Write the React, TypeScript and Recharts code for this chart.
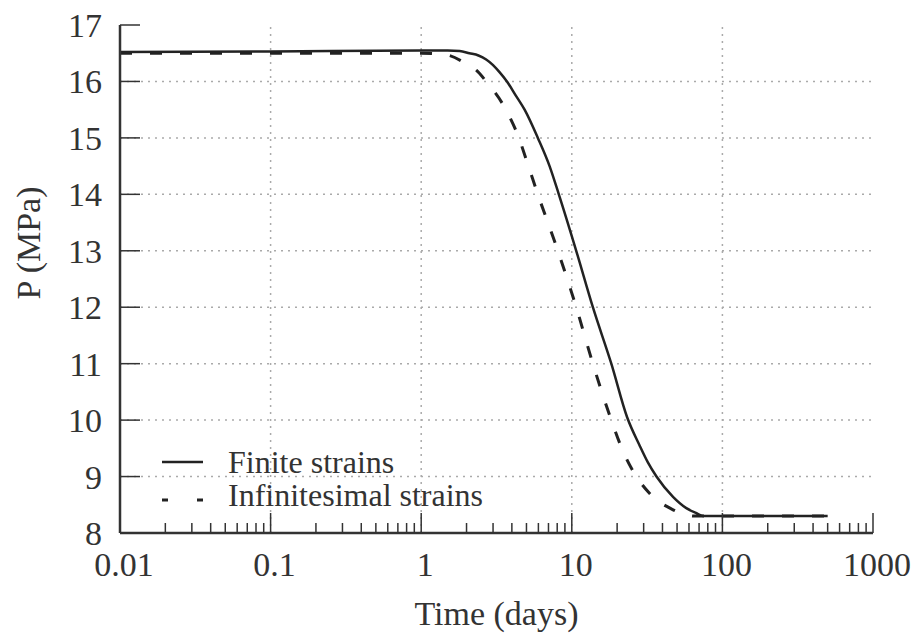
import { Legend, Line, LineChart, ReferenceLine, XAxis, YAxis } from "recharts";

// Zeit (Tage) und Druck P (MPa)
const finiteT = [0.01, 0.1, 1, 1.5, 1.8, 2.09, 2.4, 2.7, 3.0, 3.3, 3.71, 4.25, 4.86, 5.95, 7.12, 8.2, 10.7, 13.8, 18.3, 23.3, 28.2, 32, 36.5, 47, 57.6, 67.3, 75, 100, 200, 500];
const finiteP = [16.52, 16.53, 16.55, 16.55, 16.54, 16.5, 16.46, 16.39, 16.29, 16.17, 16.0, 15.75, 15.5, 15.0, 14.5, 14.0, 13.0, 12.0, 11.0, 10.05, 9.55, 9.25, 9.0, 8.64, 8.44, 8.35, 8.3, 8.3, 8.3, 8.3];

const infT = [0.01, 0.1, 1, 1.47, 2.0, 2.32, 2.7, 3.65, 4.45, 5.15, 5.95, 8.08, 10.7, 13.8, 18.3, 22.2, 25.2, 32.9, 46.4, 57.6, 66, 100, 200, 500];
const infP = [16.5, 16.5, 16.5, 16.47, 16.31, 16.2, 16.0, 15.5, 15.0, 14.5, 14.0, 13.0, 12.0, 11.0, 10.0, 9.41, 9.12, 8.7, 8.42, 8.32, 8.3, 8.3, 8.3, 8.3];

const seriesNames = ["Finite strains", "Infinitesimal strains"];

const majorX = [0.01, 0.1, 1, 10, 100, 1000];
const minorSteps = [2, 3, 4, 5, 6, 7, 8, 9];
const yTicks = [8, 9, 10, 11, 12, 13, 14, 15, 16, 17];
const gridX = [0.1, 1, 10, 100];
const gridY = [9, 10, 11, 12, 13, 14, 15, 16];

const finite = finiteT.map((t, i) => ({ t, p: finiteP[i] }));
const infinitesimal = infT.map((t, i) => ({ t, p: infP[i] }));
const allX = [...majorX, ...majorX.slice(0, -1).flatMap((d) => minorSteps.map((m) => +(d * m).toPrecision(3)))];

const FONT = "Liberation Serif";
const INK = "#333";

const BottomTick = ({ x, y, payload }: any) => {
  const major = majorX.includes(payload.value);
  return (
    <g>
      <line x1={x} x2={x} y1={y} y2={y - (major ? 20 : 10)} stroke={INK} strokeWidth={1.5} />
      {major && (
        <text x={x + 4} y={y + 43} textAnchor="middle" fontSize={34} fontFamily={FONT} fill={INK}>
          {String(payload.value)}
        </text>
      )}
    </g>
  );
};

const TopTick = ({ x, y, payload }: any) => {
  const major = majorX.includes(payload.value);
  return <line x1={x} x2={x} y1={y} y2={y + (major ? 20 : 10)} stroke={INK} strokeWidth={1.5} />;
};

const LeftTick = ({ x, y, payload }: any) => (
  <g>
    <line x1={x} x2={x + 20} y1={y} y2={y} stroke={INK} strokeWidth={1.5} />
    <text x={x - 18} y={y + 12} textAnchor="end" fontSize={34} fontFamily={FONT} fill={INK}>
      {payload.value}
    </text>
  </g>
);

const RightTick = ({ x, y }: any) => <line x1={x} x2={x - 20} y1={y} y2={y} stroke={INK} strokeWidth={1.5} />;

const YTitle = (props: any) => {
  const vb = props.viewBox ?? { x: 0, y: 25 };
  return (
    <text
      transform={`translate(${vb.x + 40},${vb.y + 218}) rotate(-90)`}
      textAnchor="middle"
      fontSize={34}
      fontFamily={FONT}
      fill={INK}
    >
      P (MPa)
    </text>
  );
};

const LegendBox = () => (
  <div style={{ fontFamily: FONT, fontSize: 32, color: INK, lineHeight: "33px", whiteSpace: "nowrap" }}>
    <div style={{ display: "flex" }}>
      <svg width={50} height={33}>
        <line x1={6} x2={47} y1={16} y2={16} stroke="#222" strokeWidth={2.5} />
      </svg>
      <span style={{ marginLeft: 22 }}>{seriesNames[0]}</span>
    </div>
    <div style={{ display: "flex" }}>
      <svg width={50} height={33}>
        <line x1={6} x2={47} y1={21} y2={21} stroke="#222" strokeWidth={3} strokeDasharray="6 29" />
      </svg>
      <span style={{ marginLeft: 22 }}>{seriesNames[1]}</span>
    </div>
  </div>
);

export default function App() {
  return (
    <div style={{ position: "absolute", left: 0, top: 0, background: "#fff" }}>
      <LineChart width={915} height={635} margin={{ top: 25, right: 42, bottom: 0, left: 0 }}>
        <XAxis
          xAxisId="b"
          dataKey="t"
          type="number"
          scale="log"
          domain={[0.01, 1000]}
          ticks={allX}
          interval={0}
          allowDataOverflow
          height={102}
          tickSize={0}
          tickMargin={0}
          tickLine={false}
          axisLine={{ stroke: INK, strokeWidth: 2.5 }}
          tick={BottomTick}
          label={{ value: "Time (days)", position: "insideBottom", offset: 10, fontSize: 34, fontFamily: FONT, fill: INK }}
        />
        <XAxis
          xAxisId="top"
          orientation="top"
          dataKey="t"
          type="number"
          scale="log"
          domain={[0.01, 1000]}
          ticks={allX}
          interval={0}
          allowDataOverflow
          height={0}
          tickSize={0}
          tickMargin={0}
          tickLine={false}
          axisLine={{ stroke: INK, strokeWidth: 2.5 }}
          tick={TopTick}
        />
        <YAxis
          yAxisId="l"
          type="number"
          domain={[8, 17]}
          ticks={yTicks}
          interval={0}
          allowDataOverflow
          width={120}
          tickSize={0}
          tickMargin={0}
          tickLine={false}
          axisLine={{ stroke: INK, strokeWidth: 2.5 }}
          tick={LeftTick}
          label={{ content: YTitle }}
        />
        <YAxis
          yAxisId="r"
          orientation="right"
          type="number"
          domain={[8, 17]}
          ticks={yTicks}
          interval={0}
          allowDataOverflow
          width={0}
          tickSize={0}
          tickMargin={0}
          tickLine={false}
          axisLine={{ stroke: INK, strokeWidth: 2.5 }}
          tick={RightTick}
        />
        {gridX.map((v) => (
          <ReferenceLine key={`gx${v}`} x={v} xAxisId="b" yAxisId="l" stroke="#aaa" strokeWidth={1.5} strokeDasharray="2 5" />
        ))}
        {gridY.map((v) => (
          <ReferenceLine key={`gy${v}`} y={v} xAxisId="b" yAxisId="l" stroke="#aaa" strokeWidth={1.5} strokeDasharray="2 5" />
        ))}
        <Line
          data={infinitesimal}
          xAxisId="b"
          yAxisId="l"
          dataKey="p"
          name={seriesNames[1]}
          type="monotone"
          stroke="#222"
          strokeWidth={3}
          strokeDasharray="12 18"
          dot={false}
          isAnimationActive={false}
        />
        <Line
          data={finite}
          xAxisId="b"
          yAxisId="l"
          dataKey="p"
          name={seriesNames[0]}
          type="monotone"
          stroke="#222"
          strokeWidth={2.5}
          dot={false}
          isAnimationActive={false}
        />
        <Legend
          layout="vertical"
          align="center"
          verticalAlign="middle"
          content={LegendBox}
          wrapperStyle={{ left: 156, top: 446, width: "auto", height: "auto" }}
        />
      </LineChart>
    </div>
  );
}
